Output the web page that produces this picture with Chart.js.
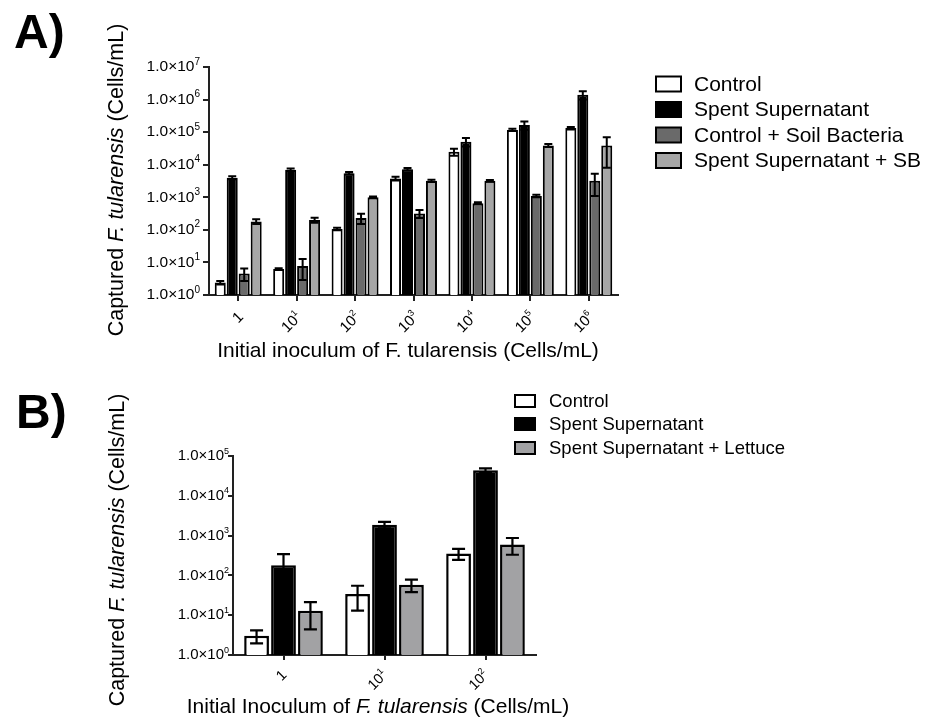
<!DOCTYPE html>
<html>
<head>
<meta charset="utf-8">
<script src="https://cdn.jsdelivr.net/npm/chart.js@4.4.1/dist/chart.umd.min.js"></script>
<style>
  body { margin: 0; background: #fff; }
  #wrap { position: relative; width: 930px; height: 719px; }
  canvas { position: absolute; left: 0; }
  #cA { top: 0; }
  #cB { top: 370px; }
</style>
</head>
<body>
<div id="wrap">
  <canvas id="cA" width="930" height="370"></canvas>
  <canvas id="cB" width="930" height="349"></canvas>
</div>
<script>
// Panel A data
const inoculumA = ['1', '10^1', '10^2', '10^3', '10^4', '10^5', '10^6'];
const controlA = [2.4, 6.3, 107, 3800, 25000, 117000, 133000];
const controlSdA = [0.3, 0.3, 10, 500, 6000, 9000, 12000];
const spentA = [4000, 7000, 5500, 7300, 51000, 166000, 1400000];
const spentSdA = [400, 600, 500, 600, 15000, 47000, 400000];
const soilA = [4.6, 7.8, 230, 320, 660, 1100, 3200];
const soilSdA = [1.9, 4.9, 80, 90, 50, 90, 2100];
const spentSbA = [180, 200, 1000, 3200, 3200, 39000, 39000];
const spentSbSdA = [30, 35, 60, 250, 200, 4000, 31000];
const yTicksA = [1, 1e1, 1e2, 1e3, 1e4, 1e5, 1e6, 1e7];

// Panel B data
const inoculumB = ['1', '10^1', '10^2'];
const controlB = [3.05, 34, 355];
const controlSdB = [1.1, 21, 110];
const spentB = [181, 1860, 44000];
const spentSdB = [160, 340, 5000];
const lettuceB = [12.9, 58, 600];
const lettuceSdB = [8.5, 20, 270];
const yTicksB = [1, 1e1, 1e2, 1e3, 1e4, 1e5];

const FONT = '"Liberation Sans", Arial, sans-serif';

// text with a superscript part, anchored at x (left/right/center)
function supText(ctx, base, exp, x, y, size, align) {
    ctx.font = size + 'px ' + FONT;
    const wb = ctx.measureText(base).width;
    const es = Math.round(size * 0.62);
    ctx.font = es + 'px ' + FONT;
    const we = exp ? ctx.measureText(exp).width : 0;
    let x0 = x;
    if (align === 'right') x0 = x - wb - we;
    if (align === 'center') x0 = x - (wb + we) / 2;
    ctx.textAlign = 'left';
    ctx.textBaseline = 'middle';
    ctx.font = size + 'px ' + FONT;
    ctx.fillText(base, x0, y);
    if (exp) {
        ctx.font = es + 'px ' + FONT;
        ctx.fillText(exp, x0 + wb, y - size * 0.33);
    }
}

// centred text made of plain / italic parts
function richText(ctx, parts, x, y, size) {
    let total = 0;
    parts.forEach(p => {
        ctx.font = (p[1] ? 'italic ' : '') + size + 'px ' + FONT;
        total += ctx.measureText(p[0]).width;
    });
    let cx = x - total / 2;
    ctx.textAlign = 'left';
    ctx.textBaseline = 'middle';
    parts.forEach(p => {
        ctx.font = (p[1] ? 'italic ' : '') + size + 'px ' + FONT;
        ctx.fillText(p[0], cx, y);
        cx += ctx.measureText(p[0]).width;
    });
}

const decor = {
    id: 'decor',
    afterDatasetsDraw(chart, args, opts) {
        const ctx = chart.ctx;
        const y = chart.scales.y;
        ctx.save();
        ctx.strokeStyle = '#000';
        ctx.lineWidth = opts.errWidth;
        chart.data.datasets.forEach((ds, di) => {
            const meta = chart.getDatasetMeta(di);
            meta.data.forEach((bar, i) => {
                const v = ds.data[i], sd = ds.sd[i];
                const yTop = y.getPixelForValue(v + sd);
                const low = v - sd;
                const yBot = low > y.min ? y.getPixelForValue(low) : y.bottom;
                ctx.beginPath();
                ctx.moveTo(bar.x, yTop);
                ctx.lineTo(bar.x, yBot);
                ctx.moveTo(bar.x - opts.cap, yTop);
                ctx.lineTo(bar.x + opts.cap, yTop);
                if (low > y.min) {
                    ctx.moveTo(bar.x - opts.cap, yBot);
                    ctx.lineTo(bar.x + opts.cap, yBot);
                }
                ctx.stroke();
            });
        });
        ctx.restore();
    },
    afterDraw(chart, args, opts) {
        const ctx = chart.ctx;
        const xs = chart.scales.x, ys = chart.scales.y;
        ctx.save();
        ctx.fillStyle = '#000';

        // y tick labels
        ys.ticks.forEach(t => {
            const e = Math.round(Math.log10(t.value));
            supText(ctx, '1.0\u00d710', String(e), opts.yLabelX, ys.getPixelForValue(t.value), opts.yLabelSize, 'right');
        });

        // x tick labels, rotated
        chart.data.labels.forEach((lab, i) => {
            const parts = lab.split('^');
            const px = xs.getPixelForTick(i);
            ctx.save();
            ctx.translate(px + opts.xLabelDx, ys.bottom + opts.xLabelDy);
            ctx.rotate(-Math.PI / 4);
            supText(ctx, parts[0], parts[1] || '', 0, 0, opts.xLabelSize, 'right');
            ctx.restore();
        });

        // axis titles
        ctx.save();
        ctx.translate(opts.yTitle.x, opts.yTitle.y);
        ctx.rotate(-Math.PI / 2);
        richText(ctx, opts.yTitle.parts, 0, 0, opts.yTitle.size);
        ctx.restore();
        richText(ctx, opts.xTitle.parts, opts.xTitle.x, opts.xTitle.y, opts.xTitle.size);

        // panel letter
        ctx.font = 'bold ' + opts.panel.size + 'px ' + FONT;
        ctx.textAlign = 'left';
        ctx.textBaseline = 'alphabetic';
        ctx.fillText(opts.panel.text, opts.panel.x, opts.panel.y);

        // legend
        const lg = opts.legend;
        chart.data.datasets.forEach((ds, i) => {
            const cy = lg.rows[i];
            ctx.fillStyle = ds.backgroundColor;
            ctx.fillRect(lg.x, cy - lg.h / 2, lg.w, lg.h);
            ctx.strokeStyle = '#000';
            ctx.lineWidth = lg.lw;
            ctx.strokeRect(lg.x, cy - lg.h / 2, lg.w, lg.h);
            ctx.fillStyle = '#000';
            ctx.font = lg.size + 'px ' + FONT;
            ctx.textBaseline = 'middle';
            ctx.fillText(ds.label, lg.textX, cy + 1);
        });
        ctx.restore();
    }
};

function axes(ticks, yMax, yWidth, xHeight, tickLen, lw) {
    return {
        x: {
            grid: { drawOnChartArea: false, offset: false, color: '#222', lineWidth: lw, tickLength: tickLen },
            border: { color: '#222', width: lw },
            ticks: { display: false },
            afterFit: s => { s.height = xHeight; }
        },
        y: {
            type: 'logarithmic',
            min: 1,
            max: yMax,
            afterBuildTicks: s => { s.ticks = ticks.map(v => ({ value: v })); },
            grid: { drawOnChartArea: false, color: '#222', lineWidth: lw, tickLength: tickLen },
            border: { color: '#222', width: lw },
            ticks: { display: false },
            afterFit: s => { s.width = yWidth; }
        }
    };
}

// Panel A
new Chart(document.getElementById('cA'), {
    type: 'bar',
    data: {
        labels: inoculumA,
        datasets: [
            { label: 'Control', data: controlA, sd: controlSdA, backgroundColor: '#ffffff' },
            { label: 'Spent Supernatant', data: spentA, sd: spentSdA, backgroundColor: '#000000' },
            { label: 'Control + Soil Bacteria', data: soilA, sd: soilSdA, backgroundColor: '#6a6a6a' },
            { label: 'Spent Supernatant + SB', data: spentSbA, sd: spentSbSdA, backgroundColor: '#a6a6a6' }
        ]
    },
    options: {
        responsive: false,
        animation: false,
        devicePixelRatio: 1,
        layout: { padding: { left: 0, right: 312, top: 67, bottom: 0 } },
        datasets: { bar: { borderColor: '#000', borderWidth: 2, barPercentage: 0.92, categoryPercentage: 0.82 } },
        scales: axes(yTicksA, 1e7, 209, 75, 6, 2),
        plugins: {
            legend: { display: false },
            tooltip: { enabled: false },
            decor: {
                errWidth: 2, cap: 4,
                yLabelX: 200, yLabelSize: 15.5,
                xLabelDx: 3, xLabelDy: 20, xLabelSize: 15,
                yTitle: { x: 117, y: 180, size: 21.5, parts: [['Captured ', false], ['F. tularensis', true], [' (Cells/mL)', false]] },
                xTitle: { x: 408, y: 351, size: 21, parts: [['Initial inoculum of F. tularensis (Cells/mL)', false]] },
                panel: { text: 'A)', x: 14, y: 48, size: 48 },
                legend: { x: 656, w: 25, h: 15, lw: 2, textX: 694, size: 21, rows: [84, 109.5, 135, 160.5] }
            }
        }
    },
    plugins: [decor]
});

// Panel B
new Chart(document.getElementById('cB'), {
    type: 'bar',
    data: {
        labels: inoculumB,
        datasets: [
            { label: 'Control', data: controlB, sd: controlSdB, backgroundColor: '#ffffff' },
            { label: 'Spent Supernatant', data: spentB, sd: spentSdB, backgroundColor: '#000000' },
            { label: 'Spent Supernatant + Lettuce', data: lettuceB, sd: lettuceSdB, backgroundColor: '#a2a2a4' }
        ]
    },
    options: {
        responsive: false,
        animation: false,
        devicePixelRatio: 1,
        layout: { padding: { left: 0, right: 394, top: 86, bottom: 0 } },
        datasets: { bar: { borderColor: '#000', borderWidth: 2.5, barPercentage: 0.92, categoryPercentage: 0.8 } },
        scales: axes(yTicksB, 1e5, 233, 64, 5, 2),
        plugins: {
            legend: { display: false },
            tooltip: { enabled: false },
            decor: {
                errWidth: 2.2, cap: 6.5,
                yLabelX: 229, yLabelSize: 15,
                xLabelDx: 1, xLabelDy: 18, xLabelSize: 14.5,
                yTitle: { x: 118, y: 180, size: 21.5, parts: [['Captured ', false], ['F. tularensis', true], [' (Cells/mL)', false]] },
                xTitle: { x: 378, y: 337, size: 21, parts: [['Initial Inoculum of ', false], ['F. tularensis', true], [' (Cells/mL)', false]] },
                panel: { text: 'B)', x: 16, y: 58, size: 48 },
                legend: { x: 515, w: 20, h: 12, lw: 2, textX: 549, size: 18.5, rows: [31, 54, 78] }
            }
        }
    },
    plugins: [decor]
});
</script>
</body>
</html>
